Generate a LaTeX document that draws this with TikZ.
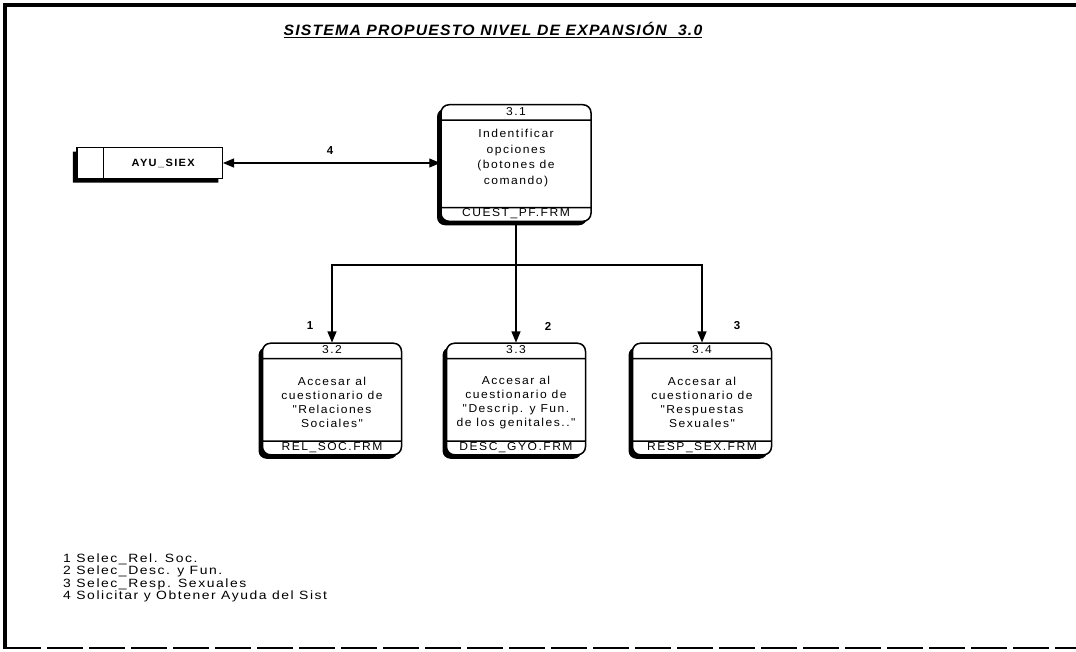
\documentclass[tikz,border=0pt]{standalone}
\usepackage{fontspec}
\setmainfont{Liberation Sans}
\newfontfamily\boxfont[LetterSpace=13,FakeStretch=1.05]{Liberation Sans}
\newfontfamily\legfont[LetterSpace=13,FakeStretch=1.16]{Liberation Sans}
\newfontfamily\titlefont[LetterSpace=8,FakeStretch=1.05]{Liberation Sans}
\usetikzlibrary{arrows.meta,shadows,shapes.multipart}

\begin{document}
\begin{tikzpicture}[x=1pt,y=1pt,
  proc/.style={rectangle split, rectangle split parts=3, draw, line width=1.5pt,
    rounded corners=8pt, fill=white, inner xsep=2pt, inner ysep=0pt,
    align=center, font=\boxfont\fontsize{11.5}{14}\selectfont,
    drop shadow={shadow xshift=-4pt, shadow yshift=-4pt, fill=black, opacity=1}},
  store/.style={rectangle split, rectangle split horizontal, rectangle split parts=2,
    draw, line width=1.5pt, fill=white, inner xsep=2pt, inner ysep=0pt,
    font=\boxfont\bfseries\fontsize{10.5}{12}\selectfont,
    drop shadow={shadow xshift=-4pt, shadow yshift=-4pt, fill=black, opacity=1}},
  flow/.style={line width=1.1pt},
  arr/.style={flow, -{Triangle[length=11pt,width=9pt]}},
  lab/.style={font=\bfseries\fontsize{11.5}{13}\selectfont}]
\useasboundingbox (0,0) rectangle (1076,-651);

% frame
\draw[line width=4pt] (3,-5) -- (1076,-5);
\draw[line width=3.5pt] (5,-3) -- (5,-649);
\draw[line width=1.2pt, dash pattern=on 36pt off 6pt] (5,-648) -- (1076,-648);

\node[font=\titlefont\bfseries\itshape\fontsize{15}{18}\selectfont] (title) at (493,-30)
  {\underline{SISTEMA PROPUESTO NIVEL DE EXPANSIÓN\ \ 3.0}};

% processes
\node[proc] (p31) at (516,-163)
  {\rule[-4pt]{0pt}{14pt}3.1
   \nodepart{two}\parbox[c][86pt][c]{146pt}{\centering\fontsize{11.5}{15.5}\selectfont
     Indentificar\\opciones\\(botones de\\comando)\par\vspace{12pt}}
   \nodepart{three}\rule[-4pt]{0pt}{12pt}CUEST\_PF.FRM};
\node[proc] (p32) at (332,-399)
  {\rule[-4pt]{0pt}{14pt}3.2
   \nodepart{two}\parbox[c][81pt][c]{135pt}{\centering\fontsize{11.5}{14}\selectfont
     \vspace*{5pt}Accesar al\\cuestionario de\\"Relaciones\\Sociales"}
   \nodepart{three}\rule[-4pt]{0pt}{11pt}REL\_SOC.FRM};
\node[proc] (p33) at (516,-399)
  {\rule[-4pt]{0pt}{14pt}3.3
   \nodepart{two}\parbox[c][81pt][c]{135pt}{\centering\fontsize{11.5}{14}\selectfont
     \vspace*{5pt}Accesar al\\cuestionario de\\"Descrip. y Fun.\\de los genitales.."}
   \nodepart{three}\rule[-4pt]{0pt}{11pt}DESC\_GYO.FRM};
\node[proc] (p34) at (702,-399)
  {\rule[-4pt]{0pt}{14pt}3.4
   \nodepart{two}\parbox[c][81pt][c]{135pt}{\centering\fontsize{11.5}{14}\selectfont
     \vspace*{5pt}Accesar al\\cuestionario de\\"Respuestas\\Sexuales"}
   \nodepart{three}\rule[-4pt]{0pt}{11pt}RESP\_SEX.FRM};

% data store
\node[store, anchor=east] (ayu) at (223,-163)
  {\rule[-10pt]{22pt}{0pt}\rule{0pt}{21pt}\nodepart{two}\makebox[114pt]{AYU\_SIEX}};

% flows
\draw[flow, {Triangle[length=11pt,width=9pt]}-{Triangle[length=11pt,width=9pt]}]
  (ayu.east) -- (ayu.east -| p31.west);
\node[lab] (l4) at (330,-151) {4};

\coordinate (fork) at (516,-265);
\draw[flow] (p31.south) -- (fork);
\draw[arr] (fork) -| (p32.north);
\draw[arr] (fork) -| (p34.north);
\draw[arr] (fork) -- (p33.north);
\node[lab] (l1) at (310,-326) {1};
\node[lab] (l2) at (548,-326) {2};
\node[lab] (l3) at (737,-326) {3};

% legend
\node[anchor=north west, align=left, inner sep=0pt,
  font=\legfont\fontsize{12}{10.3}\selectfont] (legend) at (63,-554)
  {\lineskiplimit=-20pt\relax 1 Selec\_Rel. Soc.\\2 Selec\_Desc. y Fun.\\3 Selec\_Resp. Sexuales\\4 Solicitar y Obtener Ayuda del Sist};
\end{tikzpicture}
\end{document}
